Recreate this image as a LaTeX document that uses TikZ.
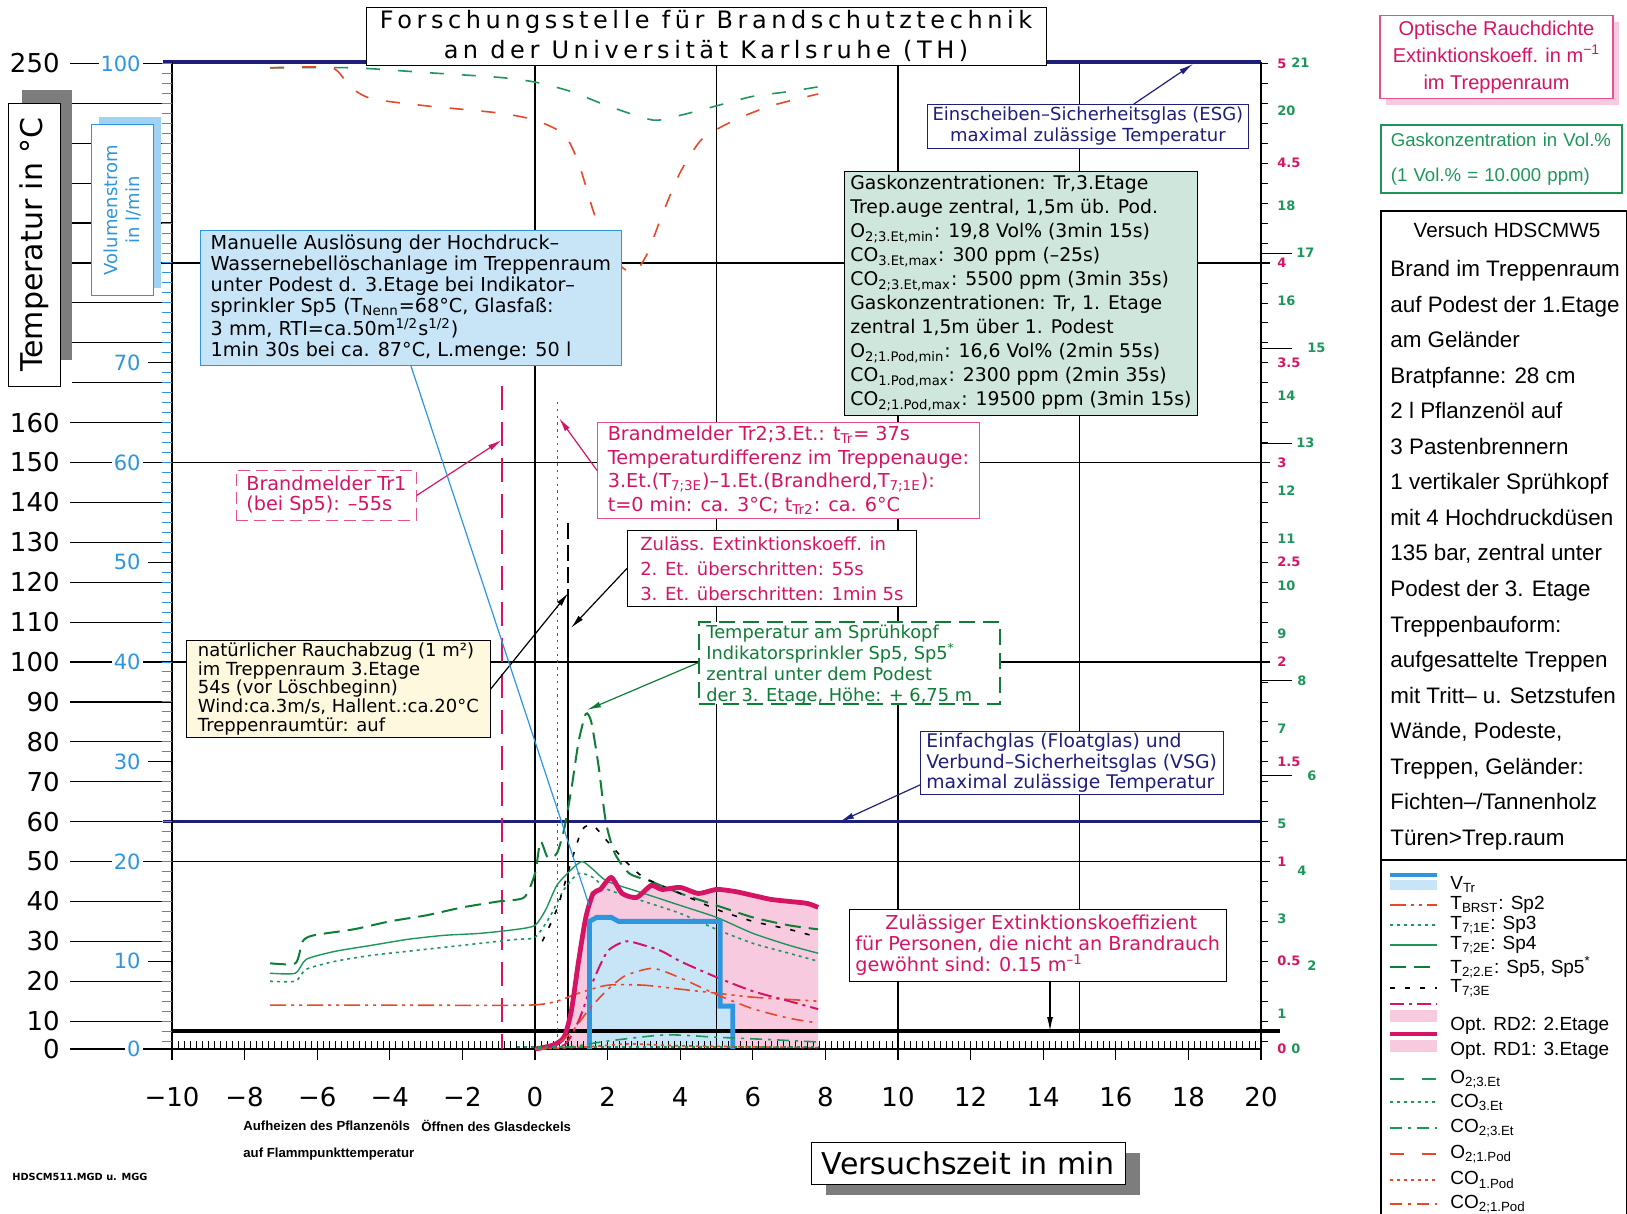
\documentclass[tikz,border=0pt]{standalone}
\usepackage{fontspec}
\setmainfont{DejaVu Sans}
\newfontfamily\titlefont[LetterSpace=19]{DejaVu Sans}
\newfontfamily\panelfont{Liberation Sans}
\usetikzlibrary{arrows.meta}
\definecolor{navy}{RGB}{30,30,125}
\definecolor{crim}{RGB}{214,20,100}
\definecolor{pinkb}{RGB}{232,80,140}
\definecolor{pinkf}{RGB}{248,202,224}
\definecolor{skyb}{RGB}{45,150,222}
\definecolor{skyf}{RGB}{200,229,248}
\definecolor{skys}{RGB}{160,210,244}
\definecolor{grn}{RGB}{30,150,90}
\definecolor{dgrn}{RGB}{15,125,55}
\definecolor{tealf}{RGB}{206,230,220}
\definecolor{yelf}{RGB}{253,248,222}
\definecolor{orred}{RGB}{232,72,40}
\definecolor{shgray}{RGB}{125,125,125}

\begin{document}
\begin{tikzpicture}[x=0.5pt,y=-0.5pt,
  axlbl/.style={font=\fontsize{13}{13}\selectfont, inner sep=0pt},
  flwlbl/.style={font=\fontsize{10.5}{10.5}\selectfont, text=skyb, fill=white, inner sep=1pt, anchor=east},
  redlbl/.style={font=\fontsize{6.5}{6.5}\selectfont\bfseries, text=crim, inner sep=0pt, anchor=west},
  grnlbl/.style={font=\fontsize{6.5}{6.5}\selectfont\bfseries, text=grn, inner sep=0pt, anchor=west},
  gridln/.style={line width=0.6pt},
  heavy/.style={line width=1.6pt},
  notebox/.style={draw, fill=white, anchor=north west, inner xsep=3pt, inner ysep=0pt, align=left},
  pointer/.style={-{Latex[length=7pt,width=3pt]}, line width=0.6pt},
  legtxt/.style={font=\panelfont\fontsize{9.5}{9.5}\selectfont, anchor=west, inner sep=0pt},
  smalltxt/.style={font=\panelfont\bfseries\fontsize{6.6}{6.6}\selectfont, anchor=west, inner sep=0pt},
  vtr/.style={skyb, line width=2.4pt},
  tbrst/.style={orred, line width=0.8pt, dash pattern=on 8pt off 2.5pt on 1.5pt off 2.5pt on 1.5pt off 2.5pt},
  tsp3/.style={grn, line width=0.8pt, dash pattern=on 1.5pt off 2pt},
  tsp4/.style={grn, line width=0.7pt},
  tsp5/.style={dgrn, line width=1pt, dash pattern=on 8pt off 4pt},
  t73e/.style={black, line width=0.8pt, dash pattern=on 2.5pt off 5pt},
  rdtwo/.style={crim, line width=1pt, dash pattern=on 7pt off 2.5pt on 1.5pt off 2.5pt},
  rdone/.style={crim, line width=2.4pt},
  othree/.style={grn, line width=0.8pt, dash pattern=on 7pt off 9pt},
  cothree/.style={grn, line width=0.8pt, dash pattern=on 1.5pt off 2pt},
  cotwothree/.style={grn, line width=0.8pt, dash pattern=on 6pt off 3pt on 1.5pt off 3pt},
  oone/.style={orred, line width=0.8pt, dash pattern=on 7pt off 9pt},
  coone/.style={orred, line width=0.8pt, dash pattern=on 1.5pt off 2pt},
  cotwoone/.style={orred, line width=0.8pt, dash pattern=on 6pt off 3pt on 1.5pt off 3pt}
]
\useasboundingbox (0,0) rectangle (1627,1214);

% shaded areas
\begin{scope}[shift={(535,1061)},x=18.15pt,y=99.75pt]
\fill[pinkf] plot[smooth,tension=0.4] coordinates {(0.8,0.06) (1.0,0.25) (1.2,0.5) (1.4,0.72) (1.6,0.84) (1.8,0.86) (2.1,0.92) (2.4,0.84) (2.8,0.82) (3.2,0.88) (3.5,0.86) (4.0,0.87) (4.5,0.84) (5.0,0.86) (5.5,0.85) (6.0,0.83) (6.5,0.81) (7.0,0.8) (7.5,0.79) (7.8,0.77)} -- (7.8,0.06) -- cycle;
\end{scope}
\begin{scope}[shift={(535,1061)},x=18.15pt,y=4.9875pt]
\fill[skyf] (1.5,1.2) -- (1.5,14) -- (1.7,14.4) -- (2.1,14.4) -- (2.3,14) -- (5.1,14) -- (5.1,5.5) -- (5.45,5.5) -- (5.45,1.2) -- cycle;
\end{scope}

% grid and frame
\foreach \tc in {50,100,150,200}
  \draw[gridln] (172,{1061-3.99*\tc}) -- (1270,{1061-3.99*\tc});
\foreach \m in {5,10,15}
  \draw[gridln] ({535+36.3*\m},62) -- ({535+36.3*\m},1049);
\draw[line width=1.3pt] (535,62) -- (535,1049);
\draw[heavy,navy] (163,62) -- (1261,62);
\draw[heavy,navy] (163,821.6) -- (1261,821.6);
\draw[heavy] (172,1031) -- (1280,1031);
\draw[line width=1.1pt] (172,62) -- (172,1049) -- (1261,1049) -- (1261,62);

% left scales
\foreach \tc in {10,20,...,160,250} {
  \node[axlbl, anchor=east] (tl\tc) at (60,{1061-3.99*\tc}) {\tc};
  \draw[gridln] (70,{1061-3.99*\tc}) -- (172,{1061-3.99*\tc});
}
\node[axlbl, anchor=east] (tl0) at (60,1049) {0};
\draw[gridln] (70,1049) -- (172,1049);
\foreach \tc in {170,180,...,240}
  \draw[gridln] (72,{1061-3.99*\tc}) -- (172,{1061-3.99*\tc});
\foreach \k in {2,...,100}
  \draw[skyb, line width=0.5pt] (162,{1061-9.975*\k}) -- (172,{1061-9.975*\k});
\foreach \q in {100,60,40,20}
  \node[flwlbl] (fl\q) at (143,{1061-9.975*\q}) {\q};
\node[flwlbl] (fl0) at (143,1049) {0};
\foreach \q in {70,50,30,10} {
  \node[flwlbl] (fl\q) at (143,{1061-9.975*\q}) {\q};
  \draw[gridln] (148,{1061-9.975*\q}) -- (172,{1061-9.975*\q});
}
\fill[shgray] (22,90) rectangle (72,360);
\node[draw, fill=white, rotate=90, minimum width=141.5pt, minimum height=26pt, inner sep=0pt, font=\fontsize{15}{15}\selectfont] (tempttl) at (34,244.5) {Temperatur in °C};
\fill[skys] (99,117) rectangle (161,288);
\node[draw=skyb, fill=white, rotate=90, minimum width=85.5pt, minimum height=31pt, inner sep=0pt, align=center, text=skyb, font=\fontsize{9}{11}\selectfont] (flowttl) at (122,210) {Volumenstrom\\in l/min};

% time axis
\foreach \i in {0,...,180}
  \draw[line width=0.4pt] ({172+6.05*\i},1049) -- ({172+6.05*\i},1041);
\foreach \tc/\s [count=\i] in {-10/−10,-8/−8,-6/−6,-4/−4,-2/−2,0/0,2/2,4/4,6/6,8/8,10/10,12/12,14/14,16/16,18/18,20/20} {
  \draw[gridln] ({535+36.3*\tc},1049) -- ({535+36.3*\tc},1060);
  \node[axlbl] (xl\i) at ({535+36.3*\tc},1097) {\s};
}

% right scales
\foreach \k in {1,...,50}
  \draw[line width=0.4pt] (1261,{1061-19.95*\k}) -- (1268,{1061-19.95*\k});
\foreach \gv in {17,15,13,8,6}
  \draw[gridln] (1261,{1061-47.52*\gv}) -- (1292,{1061-47.52*\gv});
\foreach \e [count=\i] in {5,4.5,4,3.5,3,2.5,2,1.5,1,0.5}
  \node[redlbl] (rl\i) at (1277,{1061-199.5*\e}) {\e};
\node[redlbl] (rl0) at (1277,1049) {0};
\foreach \gv/\xx in {21/1291,20/1277,18/1277,17/1296,16/1277,15/1307,14/1277,13/1296,12/1277,11/1277,10/1277,9/1277,8/1297,7/1277,6/1307,5/1277,4/1297,3/1277,2/1307,1/1277}
  \node[grnlbl] (gl\gv) at (\xx,{1061-47.52*\gv}) {\gv};
\node[grnlbl] (gl0) at (1291,1049) {0};

% event markers
\draw[crim, line width=0.9pt, dash pattern=on 12pt off 6pt] (501.7,386) -- (501.7,1049);
\draw[crim, line width=0.9pt, dash pattern=on 1.2pt off 2.2pt] (557.4,402) -- (557.4,1049);
\draw[line width=1pt, dash pattern=on 8pt off 3pt] (568.3,523) -- (568.3,600);
\draw[line width=1pt] (568.3,600) -- (568.3,1049);

% temperatures
\begin{scope}[shift={(535,1061)},x=18.15pt,y=1.995pt]
\draw[tbrst] plot[smooth,tension=0.4] coordinates {(-7.3,14) (-4,14) (-0.2,14) (0.6,15) (1.2,17) (2,19) (3,19) (4,18) (5,17) (6,16) (7.8,15)};
\draw[tsp3] plot[smooth,tension=0.4] coordinates {(-7.3,20) (-6.6,20) (-6.3,23) (-5.5,25) (-4.5,26.5) (-3.5,27.5) (-2.5,28.5) (-1.5,29.5) (-0.5,30.5) (0,31) (0.4,36) (0.8,43) (1.2,47) (1.6,46) (2,43) (3,40) (4,37) (5,33) (6,29.5) (7,27) (7.8,25)};
\draw[tsp4] plot[smooth,tension=0.4] coordinates {(-7.3,22) (-6.6,22) (-6.3,25.5) (-5.5,27.5) (-4.5,29) (-3.5,30.5) (-2.5,31.5) (-1.5,32) (-0.5,33) (0,34) (0.3,38) (0.6,44) (1.0,48) (1.3,50) (1.6,48) (2,45) (3,42) (4,39) (5,36) (6,32) (7,29) (7.8,27)};
\draw[tsp5] plot[smooth,tension=0.4] coordinates {(-7.3,24.5) (-6.6,24.5) (-6.4,30) (-6.1,31.5) (-5,33) (-4,35) (-3,36.5) (-2,38.5) (-1,40) (-0.3,41) (0,47) (0.15,55) (0.35,51) (0.6,52) (0.8,58) (1.0,68) (1.2,80) (1.4,87) (1.55,85) (1.75,74) (1.95,60) (2.2,52) (2.6,47) (3.2,45) (4,42) (5,39) (6,36) (7,34) (7.8,33)};
\draw[t73e] plot[smooth,tension=0.4] coordinates {(0.2,30) (0.6,38) (1.0,50) (1.3,58) (1.6,59) (2.0,55) (2.5,50) (3,46) (4,42) (5,38) (6,35) (7,33) (7.8,31)};
\end{scope}

% smoke density
\begin{scope}[shift={(535,1061)},x=18.15pt,y=99.75pt]
\draw[rdtwo] plot[smooth,tension=0.4] coordinates {(0,0.06) (0.8,0.08) (1.2,0.2) (1.6,0.4) (2,0.55) (2.5,0.6) (3,0.58) (3.5,0.55) (4,0.5) (5,0.42) (6,0.35) (7,0.3) (7.8,0.26)};
\draw[rdone] plot[smooth,tension=0.4] coordinates {(0,0.06) (0.5,0.08) (0.8,0.12) (1.0,0.25) (1.2,0.5) (1.4,0.72) (1.6,0.84) (1.8,0.86) (2.1,0.92) (2.4,0.84) (2.8,0.82) (3.2,0.88) (3.5,0.86) (4.0,0.87) (4.5,0.84) (5.0,0.86) (5.5,0.85) (6.0,0.83) (6.5,0.81) (7.0,0.8) (7.5,0.79) (7.8,0.77)};
\end{scope}

% water flow
\begin{scope}[shift={(535,1061)},x=18.15pt,y=4.9875pt]
\draw[vtr] (1.5,1.2) -- (1.5,14) -- (1.7,14.4) -- (2.1,14.4) -- (2.3,14) -- (5.1,14) -- (5.1,5.5) -- (5.45,5.5) -- (5.45,1.2);
\end{scope}

% gas concentrations
\begin{scope}[shift={(535,1061)},x=18.15pt,y=23.76pt]
\draw[othree] plot[smooth,tension=0.4] coordinates {(-7.3,20.9) (-5,20.9) (-3,20.8) (-1,20.7) (0,20.6) (1,20.4) (2,20.1) (3.25,19.8) (4,19.9) (5,20.1) (6,20.3) (7,20.4) (7.8,20.5)};
\draw[oone] plot[smooth,tension=0.4] coordinates {(-7.3,20.9) (-5.6,20.9) (-5.1,20.5) (-4.5,20.25) (-3,20.1) (-1,19.95) (0,19.8) (0.8,19.5) (1.2,18.9) (1.6,17.9) (2.0,17.1) (2.4,16.7) (2.75,16.6) (3.1,17.0) (3.5,17.8) (4.0,18.7) (4.6,19.4) (5.5,19.8) (6.5,20.1) (7.8,20.35)};
\draw[cotwoone] plot[smooth,tension=0.4] coordinates {(0,0.25) (0.5,0.3) (1,0.6) (1.5,1.1) (2,1.5) (2.5,1.8) (3.25,1.95) (4,1.75) (5,1.4) (6,1.1) (7,0.9) (7.8,0.8)};
\draw[cotwothree] plot[smooth,tension=0.4] coordinates {(0,0.25) (1,0.3) (2,0.42) (3.6,0.55) (5,0.5) (6.5,0.45) (7.8,0.4)};
\draw[coone] plot[smooth,tension=0.4] coordinates {(0,0.25) (1.5,0.3) (2.6,0.36) (4,0.32) (7.8,0.28)};
\draw[cothree] (-0.5,0.3) -- (7.8,0.3);
\end{scope}

% title and side boxes
\node[draw, fill=white, minimum width=340pt, minimum height=29pt, inner sep=0pt, align=center, font=\titlefont\fontsize{12}{15}\selectfont] (ttl) at (706,36) {Forschungsstelle für Brandschutztechnik\\an der Universität Karlsruhe (TH)};
\fill[pinkf] (1386,22) rectangle (1619,105);
\node[draw=pinkb, fill=white, line width=0.8pt, minimum width=116.5pt, minimum height=41.5pt, inner sep=0pt, align=center, text=crim, font=\panelfont\fontsize{10}{13.5}\selectfont] (rdttl) at (1496.5,57) {Optische Rauchdichte\\Extinktionskoeff. in m\textsuperscript{−1}\\im Treppenraum};
\node[draw=grn, line width=0.8pt, anchor=north west, minimum width=120.5pt, minimum height=33.75pt, inner xsep=5pt, inner ysep=0pt, text width=110.5pt, align=left, text=grn, font=\panelfont\fontsize{9.3}{17.75}\selectfont] (gasttl) at (1380,124.5) {Gaskonzentration in Vol.\%\\(1 Vol.\% = 10.000 ppm)};
\node[draw, line width=0.8pt, anchor=north west, minimum width=123pt, minimum height=506pt, inner sep=0pt] (vbox) at (1380,210) {};
\draw[line width=0.8pt] (1380,860) -- (1627,860);
\node[font=\panelfont\fontsize{10.3}{10.3}\selectfont, inner sep=0pt] (vttl) at (1507,230) {Versuch HDSCMW5};
\node[anchor=north west, inner sep=0pt, align=left, font=\panelfont\fontsize{11.2}{17.77}\selectfont] (vtxt) at (1390,260) {Brand im Treppenraum\\auf Podest der 1.Etage\\am Geländer\\Bratpfanne: 28 cm\\2 l Pflanzenöl auf\\3 Pastenbrennern\\1 vertikaler Sprühkopf\\mit 4 Hochdruckdüsen\\135 bar, zentral unter\\Podest der 3. Etage\\Treppenbauform:\\aufgesattelte Treppen\\mit Tritt– u. Setzstufen\\Wände, Podeste,\\Treppen, Geländer:\\Fichten–/Tannenholz\\Türen>Trep.raum};

% legend
\fill[skyf] (1390,880) rectangle (1437,890);
\draw[skyb, line width=1.6pt] (1390,875) -- (1437,875);
\node[legtxt] (lvtr) at (1450,884) {V\textsubscript{Tr}};
\draw[tbrst] (1390,905) -- (1437,905);
\node[legtxt] (ltbrst) at (1450,905) {T\textsubscript{BRST}: Sp2};
\draw[tsp3] (1390,925) -- (1437,925);
\node[legtxt] (lsp3) at (1450,925) {T\textsubscript{7;1E}: Sp3};
\draw[tsp4] (1390,945) -- (1437,945);
\node[legtxt] (lsp4) at (1450,945) {T\textsubscript{7;2E}: Sp4};
\draw[tsp5] (1390,967) -- (1437,967);
\node[legtxt] (lsp5) at (1450,967) {T\textsubscript{2;2.E}: Sp5, Sp5\textsuperscript{*}};
\draw[t73e] (1390,988) -- (1437,988);
\node[legtxt] (lt73) at (1450,988) {T\textsubscript{7;3E}};
\fill[pinkf] (1390,1010) rectangle (1437,1022);
\draw[rdtwo] (1390,1004) -- (1437,1004);
\node[legtxt] (lrd2) at (1450,1026) {Opt. RD2: 2.Etage};
\fill[pinkf] (1390,1040) rectangle (1437,1052);
\draw[crim, line width=1.8pt] (1390,1034) -- (1437,1034);
\node[legtxt] (lrd1) at (1450,1051) {Opt. RD1: 3.Etage};
\draw[othree] (1390,1079) -- (1437,1079);
\node[legtxt] (lo3) at (1450,1079) {O\textsubscript{2;3.Et}};
\draw[cothree] (1390,1102) -- (1437,1102);
\node[legtxt] (lco3) at (1450,1102) {CO\textsubscript{3.Et}};
\draw[cotwothree] (1390,1128) -- (1437,1128);
\node[legtxt] (lcot3) at (1450,1128) {CO\textsubscript{2;3.Et}};
\draw[oone] (1390,1154) -- (1437,1154);
\node[legtxt] (lo1) at (1450,1154) {O\textsubscript{2;1.Pod}};
\draw[coone] (1390,1180) -- (1437,1180);
\node[legtxt] (lco1) at (1450,1180) {CO\textsubscript{1.Pod}};
\draw[cotwoone] (1390,1204) -- (1437,1204);
\node[legtxt] (lcot1) at (1450,1204) {CO\textsubscript{2;1.Pod}};

% notes in the plot
\node[notebox, draw=skyb, fill=skyf, minimum width=210.5pt, minimum height=67.5pt, font=\fontsize{9.6}{10.5}\selectfont] (sprbox) at (200,230) {Manuelle Auslösung der Hochdruck–\\Wassernebellöschanlage im Treppenraum\\unter Podest d. 3.Etage bei Indikator–\\sprinkler Sp5 (T\textsubscript{Nenn}=68°C, Glasfaß:\\3 mm, RTI=ca.50m\textsuperscript{1/2}s\textsuperscript{1/2})\\1min 30s bei ca. 87°C, L.menge: 50 l};
\node[notebox, fill=tealf, minimum width=173.5pt, minimum height=122pt, font=\fontsize{9.4}{12}\selectfont] (gasbox) at (844,171) {Gaskonzentrationen: Tr,3.Etage\\Trep.auge zentral, 1,5m üb. Pod.\\O\textsubscript{2;3.Et,min}: 19,8 Vol\% (3min 15s)\\CO\textsubscript{3.Et,max}: 300 ppm (–25s)\\CO\textsubscript{2;3.Et,max}: 5500 ppm (3min 35s)\\Gaskonzentrationen: Tr, 1. Etage\\zentral 1,5m über 1. Podest\\O\textsubscript{2;1.Pod,min}: 16,6 Vol\% (2min 55s)\\CO\textsubscript{1.Pod,max}: 2300 ppm (2min 35s)\\CO\textsubscript{2;1.Pod,max}: 19500 ppm (3min 15s)};
\node[notebox, draw=navy, text=navy, align=center, minimum width=160.5pt, minimum height=21.8pt, inner xsep=2pt, font=\fontsize{9}{10.4}\selectfont] (esg) at (927,104) {Einscheiben–Sicherheitsglas (ESG)\\maximal zulässige Temperatur};
\node[notebox, draw=navy, text=navy, minimum width=151pt, minimum height=31.5pt, font=\fontsize{9.4}{10.1}\selectfont] (vsg) at (920,731) {Einfachglas (Floatglas) und\\Verbund–Sicherheitsglas (VSG)\\maximal zulässige Temperatur};
\node[notebox, text=crim, minimum width=187.5pt, minimum height=36pt, font=\fontsize{9.6}{10.4}\selectfont] (exbox) at (849,909) {\hspace*{15pt}Zulässiger Extinktionskoeffizient\\für Personen, die nicht an Brandrauch\\gewöhnt sind: 0.15 m\textsuperscript{–1}};
\node[notebox, draw=pinkb, text=crim, minimum width=191pt, minimum height=48pt, font=\fontsize{9.6}{11.75}\selectfont] (tr2box) at (597,422) {Brandmelder Tr2;3.Et.: t\textsubscript{Tr}= 37s\\Temperaturdifferenz im Treppenauge:\\3.Et.(T\textsubscript{7;3E})–1.Et.(Brandherd,T\textsubscript{7;1E}):\\t=0 min: ca. 3°C; t\textsubscript{Tr2}: ca. 6°C};
\node[notebox, draw=pinkb, dash pattern=on 6pt off 3pt, text=crim, minimum width=90pt, minimum height=25pt, font=\fontsize{9.6}{10}\selectfont] (tr1box) at (236,470) {Brandmelder Tr1\\(bei Sp5): –55s};
\node[notebox, text=crim, minimum width=144.5pt, minimum height=38pt, font=\fontsize{9}{12.5}\selectfont] (zulbox) at (627,530) {Zuläss. Extinktionskoeff. in\\2. Et. überschritten: 55s\\3. Et. überschritten: 1min 5s};
\node[notebox, fill=yelf, minimum width=152pt, minimum height=48.5pt, font=\fontsize{9}{9.4}\selectfont] (rauchbox) at (186,640) {natürlicher Rauchabzug (1 m²)\\im Treppenraum 3.Etage\\54s (vor Löschbeginn)\\Wind:ca.3m/s, Hallent.:ca.20°C\\Treppenraumtür: auf};
\node[notebox, draw=dgrn, dash pattern=on 8pt off 4pt, line width=0.8pt, minimum width=150.5pt, minimum height=41pt] (sprkbox) at (698,621) {};
\node[anchor=north west, inner sep=0pt, align=left, text=dgrn, font=\fontsize{8.9}{10.5}\selectfont] (sprktxt) at (706,625) {Temperatur am Sprühkopf\\Indikatorsprinkler Sp5, Sp5\textsuperscript{*}\\zentral unter dem Podest\\der 3. Etage, Höhe: + 6,75 m};

% pointers
\coordinate (esgtip) at (1193,64);
\draw[pointer, navy] ([xshift=23pt]esg.north) -- (esgtip);
\coordinate (vsgtip) at (840,821.6);
\draw[pointer, navy] ([yshift=-11pt]vsg.west) -- (vsgtip);
\coordinate (extip) at (1050,1031);
\draw[pointer] (exbox.south -| extip) -- (extip);
\coordinate (tr1tip) at (501.7,440);
\draw[pointer, crim] (tr1box.east) -- (tr1tip);
\coordinate (tr2tip) at (559,418);
\draw[pointer, crim] (tr2box.west) -- (tr2tip);
\coordinate (rauchtip) at (568.3,593);
\draw[pointer] (rauchbox.east) -- (rauchtip);
\coordinate (zultip) at (571,628);
\draw[pointer] (zulbox.west) -- (zultip);
\coordinate (sprtip) at (587,710);
\draw[pointer, dgrn] (sprkbox.west) -- (sprtip);
\coordinate (vtrtip) at (589,905);
\draw[skyb, line width=0.6pt] (sprbox.south) -- (vtrtip);

% bottom texts
\fill[shgray] (826,1153) rectangle (1140,1195);
\node[draw, fill=white, minimum width=157pt, minimum height=21pt, inner sep=0pt, font=\fontsize{15}{15}\selectfont] (timettl) at (968,1163) {Versuchszeit in min};
\node[smalltxt] (heat1) at (243,1126) {Aufheizen des Pflanzenöls};
\node[smalltxt] (lid) at (421,1126) {Öffnen des Glasdeckels};
\node[smalltxt] (heat2) at (243,1154) {auf Flammpunkttemperatur};
\node[font=\fontsize{4.9}{4.9}\selectfont\bfseries, anchor=west, inner sep=0pt] (fname) at (12,1177) {HDSCM511.MGD u. MGG};
\end{tikzpicture}
\end{document}
